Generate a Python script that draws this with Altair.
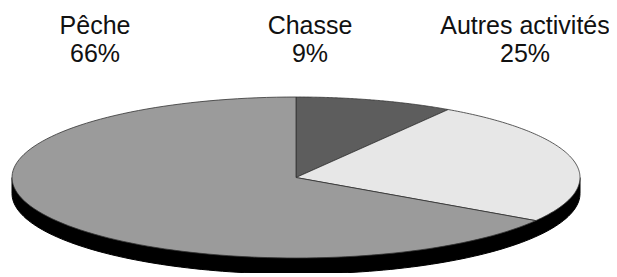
import altair as alt
import pandas as pd

# ---- data ----
categories = ["Chasse", "Autres activités", "Pêche"]   # clockwise from 12 o'clock
shares = [9, 25, 66]
label_order = ["Pêche", "Chasse", "Autres activités"]  # left-to-right label row
colors = ["#5d5d5d", "#e7e7e7", "#9b9b9b"]

# ---- geometry of the tilted pie (page pixels) ----
CX, CY, RX, RY, DEPTH = 296, 177.5, 284, 80.5, 16
N = 120
X0, X1, Y0, Y1 = 8, 609, 8, 273
W, H = X1 - X0, Y1 - Y0

df = pd.DataFrame({"category": categories, "share": shares,
                   "order": list(range(len(categories)))})
df["label"] = df["category"] + "\n" + df["share"].astype(str) + "%"

xs = alt.Scale(domain=[X0, X1], range=[0, W], zero=False, nice=False)
ys = alt.Scale(domain=[Y0, Y1], range=[0, H], zero=False, nice=False)

# black side band of the "3D" pie
shadow = alt.Chart(alt.sequence(0, N + 3, as_="step")).transform_calculate(
    t=f"clamp((datum.step - 1) / {N}, 0, 1)",
    theta="PI / 2 + PI * datum.t",
    edge=f"datum.step == 0 || datum.step == {N + 2}",
    px=f"{CX} + {RX} * sin(datum.theta)",
    py=f"datum.edge ? {CY} : {CY} + {DEPTH} - {RY} * cos(datum.theta)",
).mark_line(filled=True, fill="#000000", stroke="#000000", strokeWidth=1).encode(
    x=alt.X("px:Q", scale=xs, axis=None),
    y=alt.Y("py:Q", scale=ys, axis=None),
    order="step:Q",
)

slices = alt.Chart(df).transform_window(
    cum="sum(share)", sort=[alt.SortField("order")], frame=[None, 0]
).transform_joinaggregate(total="sum(share)").transform_calculate(
    start="datum.cum - datum.share",
    steps=f"sequence(0, {N + 3})",
).transform_flatten(["steps"], as_=["step"]).transform_calculate(
    edge=f"datum.step == 0 || datum.step == {N + 2}",
    t=f"clamp((datum.step - 1) / {N}, 0, 1)",
    theta="2 * PI * (datum.start + datum.share * datum.t) / datum.total",
    px=f"datum.edge ? {CX} : {CX} + {RX} * sin(datum.theta)",
    py=f"datum.edge ? {CY} : {CY} - {RY} * cos(datum.theta)",
).mark_line(filled=True, stroke="#333333", strokeWidth=0.8, strokeJoin="round").encode(
    x=alt.X("px:Q", scale=xs, axis=None),
    y=alt.Y("py:Q", scale=ys, axis=None),
    order="step:Q",
    detail="category:N",
    fill=alt.Fill("category:N", scale=alt.Scale(domain=categories, range=colors), legend=None),
)

labels = alt.Chart(df).mark_text(
    lineBreak="\n", fontSize=25, font="Liberation Sans", baseline="top",
    align="center", color="#111111", lineHeight=28,
).encode(
    x=alt.X("category:N", sort=label_order,
            scale=alt.Scale(type="point", range=[87, 517], padding=0), axis=None),
    y=alt.value(6),
    text="label:N",
)

chart = alt.layer(shadow, slices, labels).resolve_scale(x="independent").properties(
    width=W, height=H, padding=0, autosize="none"
).configure_view(stroke=None)

chart.save("out.html", embed_options={"renderer": "svg", "actions": False})
